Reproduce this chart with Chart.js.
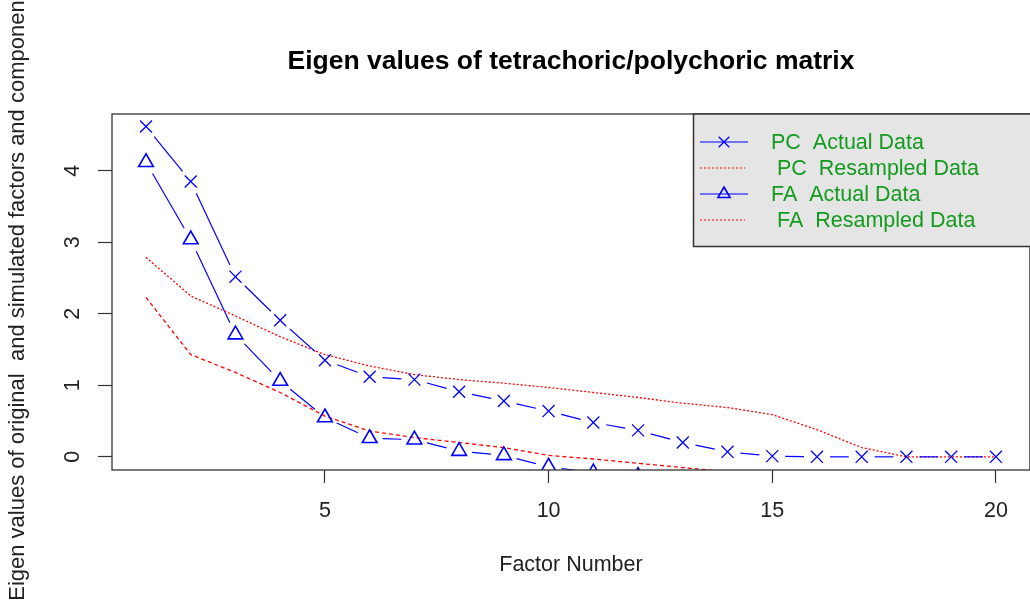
<!DOCTYPE html>
<html>
<head>
<meta charset="utf-8">
<script src="https://cdn.jsdelivr.net/npm/chart.js@4.4.1/dist/chart.umd.min.js"></script>
<style>
  html, body { margin: 0; padding: 0; background: #fff; overflow: hidden; }
  #wrap { width: 1030px; height: 601px; overflow: hidden; }
</style>
</head>
<body>
<div id="wrap"><canvas id="scree" width="1040" height="601"></canvas></div>
<script>
const factorNumbers = [1, 2, 3, 4, 5, 6, 7, 8, 9, 10, 11, 12, 13, 14, 15, 16, 17, 18, 19, 20];
const pcActual = [4.62, 3.85, 2.52, 1.91, 1.35, 1.12, 1.08, 0.91, 0.78, 0.64, 0.48, 0.37, 0.20, 0.07, 0.01, 0.0, 0.0, 0.0, 0.0, 0.0];
const pcResampled = [2.79, 2.25, 1.97, 1.68, 1.43, 1.27, 1.15, 1.08, 1.03, 0.97, 0.90, 0.83, 0.75, 0.69, 0.59, 0.38, 0.13, 0.0, 0.0, 0.0];
const faActual = [4.12, 3.04, 1.71, 1.06, 0.55, 0.26, 0.24, 0.08, 0.02, -0.14, -0.22, -0.27, -0.31, -0.35, -0.39, -0.43, -0.47, -0.51, -0.56, -0.62];
const faResampled = [2.23, 1.43, 1.18, 0.90, 0.57, 0.36, 0.27, 0.20, 0.13, 0.02, -0.03, -0.09, -0.15, -0.21, -0.25, -0.29, -0.33, -0.37, -0.42, -0.50];

const xTicks = [5, 10, 15, 20];
const yTicks = [0, 1, 2, 3, 4];
const legendLabels = ['PC  Actual Data', ' PC  Resampled Data', 'FA  Actual Data', ' FA  Resampled Data'];
const chartTitle = 'Eigen values of tetrachoric/polychoric matrix';
const xTitle = 'Factor Number';
const yTitle = 'Eigen values of original  and simulated factors and components';

const FONT = '"Liberation Sans", Arial, sans-serif';
Chart.defaults.font.family = FONT;
Chart.defaults.font.size = 21.5;
Chart.defaults.color = '#222';

function points(values) {
    return factorNumbers.map((f, i) => ({ x: f, y: values[i] }));
}

// like R type="b": the line stops short of each point
function gapDash(ctx) {
    const len = Math.hypot(ctx.p1.x - ctx.p0.x, ctx.p1.y - ctx.p0.y);
    const g = 13;
    if (len <= 2 * g) return [0, len + 1];
    return [0, g, len - 2 * g, g];
}

const datasets = [
    {
        label: legendLabels[0],
        data: points(pcActual),
        borderColor: '#0000ff',
        borderWidth: 1.2,
        borderCapStyle: 'butt',
        pointStyle: 'crossRot',
        pointRadius: 8.5,
        pointBorderWidth: 1.3,
        pointBorderColor: '#0000ff',
        pointBackgroundColor: 'rgba(0,0,0,0)',
        segment: { borderDash: gapDash }
    },
    {
        label: legendLabels[1],
        data: points(pcResampled),
        borderColor: '#ff0000',
        borderWidth: 1.3,
        borderDash: [2, 2],
        pointRadius: 0
    },
    {
        label: legendLabels[2],
        data: points(faActual),
        borderColor: '#0000ff',
        borderWidth: 1.2,
        borderCapStyle: 'butt',
        pointStyle: 'triangle',
        pointRadius: 8.5,
        pointBorderWidth: 1.6,
        pointBorderColor: '#0000ff',
        pointBackgroundColor: 'rgba(0,0,0,0)',
        segment: { borderDash: gapDash }
    },
    {
        label: legendLabels[3],
        data: points(faResampled),
        borderColor: '#ff0000',
        borderWidth: 1.3,
        borderDash: [4, 3],
        pointRadius: 0
    }
];

const rDecor = {
    id: 'rDecor',
    afterDraw(chart) {
        const ctx = chart.ctx;
        const a = chart.chartArea;
        ctx.save();

        // plot box
        ctx.strokeStyle = '#333';
        ctx.lineWidth = 1.3;
        ctx.strokeRect(a.left, a.top, a.right - a.left, a.bottom - a.top);

        // title
        ctx.fillStyle = '#000';
        ctx.font = 'bold 26.5px ' + FONT;
        ctx.textAlign = 'center';
        ctx.textBaseline = 'middle';
        ctx.fillText(chartTitle, (a.left + a.right) / 2, 62);

        // legend box, top right
        const bx = 693.5, by = a.top, bw = 400, bh = 132.5;
        ctx.fillStyle = '#e5e5e5';
        ctx.fillRect(bx, by, bw, bh);
        ctx.strokeStyle = '#333';
        ctx.lineWidth = 1.5;
        ctx.strokeRect(bx, by, bw, bh);

        const rows = [142, 168, 194, 220];
        ctx.font = '21.5px ' + FONT;
        ctx.textAlign = 'left';
        datasets.forEach((ds, i) => {
            const y = rows[i];
            ctx.strokeStyle = ds.borderColor;
            ctx.lineWidth = 1.2;
            ctx.setLineDash(ds.pointRadius ? [] : [2, 2]);
            ctx.beginPath();
            ctx.moveTo(700, y);
            ctx.lineTo(ds.pointRadius ? 748 : 745, y);
            ctx.stroke();
            ctx.setLineDash([]);
            if (ds.pointRadius) {
                ctx.fillStyle = 'rgba(0,0,0,0)';
                ctx.lineWidth = ds.pointBorderWidth;
                Chart.helpers.drawPoint(ctx, {
                    pointStyle: ds.pointStyle,
                    radius: ds.pointStyle === 'triangle' ? 7 : 7.5,
                    borderWidth: ds.pointBorderWidth,
                    rotation: 0
                }, 724, y);
            }
            ctx.fillStyle = '#149a1e';
            ctx.textBaseline = 'middle';
            ctx.fillText(ds.label, 771, y + 1.5);
        });
        ctx.restore();
    }
};

new Chart(document.getElementById('scree'), {
    type: 'line',
    data: { datasets },
    options: {
        responsive: false,
        animation: false,
        layout: { padding: { top: 114, right: 4, left: 0, bottom: 0 } },
        plugins: { legend: { display: false }, tooltip: { enabled: false } },
        scales: {
            x: {
                type: 'linear',
                min: 0.24,
                max: 20.76,
                afterBuildTicks: s => { s.ticks = xTicks.map(v => ({ value: v })); },
                afterFit: s => { s.height = 131; },
                ticks: { autoSkip: false, maxRotation: 0, padding: 15, color: '#222' },
                grid: { drawOnChartArea: false, tickLength: 13, tickColor: '#333', tickWidth: 1.2 },
                border: { display: false },
                title: { display: true, text: xTitle, color: '#222', padding: { top: 0, bottom: 23 } }
            },
            y: {
                min: -0.184,
                max: 4.795,
                afterBuildTicks: s => { s.ticks = yTicks.map(v => ({ value: v })); },
                afterFit: s => { s.width = 112; },
                ticks: { minRotation: 90, maxRotation: 90, crossAlign: 'center', padding: 19, color: '#222' },
                grid: { drawOnChartArea: false, tickLength: 14, tickColor: '#333', tickWidth: 1.2 },
                border: { display: false },
                title: { display: true, text: yTitle, color: '#222', font: { size: 22 }, padding: { top: 5, bottom: 0 } }
            }
        }
    },
    plugins: [rDecor]
});
</script>
</body>
</html>
